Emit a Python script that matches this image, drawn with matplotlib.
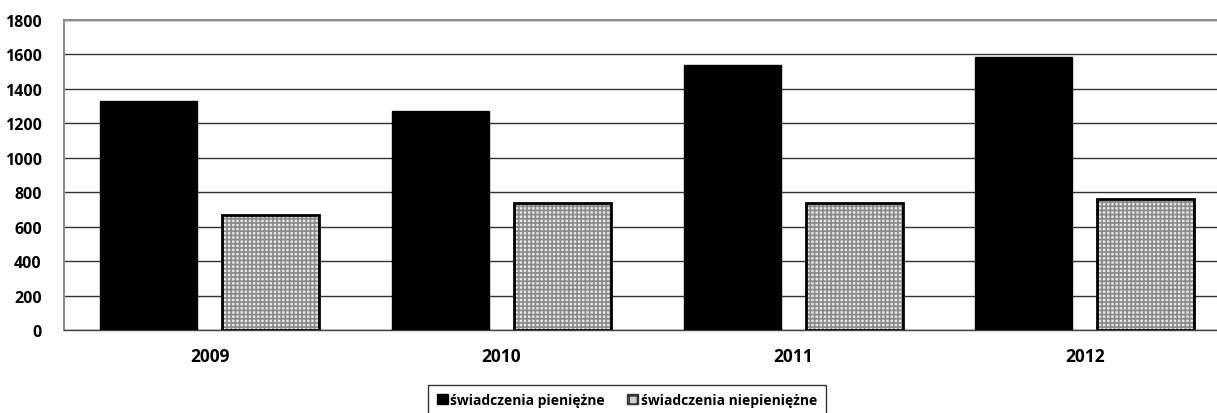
import matplotlib
matplotlib.use("Agg")
import matplotlib.pyplot as plt
import numpy as np
from matplotlib.patches import Patch

years = ["2009", "2010", "2011", "2012"]
pieniezne = [1330, 1270, 1540, 1585]
niepieniezne = [665, 740, 737, 760]
yticks = [0, 200, 400, 600, 800, 1000, 1200, 1400, 1600, 1800]
labels = ["świadczenia pieniężne", "świadczenia niepieniężne"]

plt.rcParams['font.family'] = ['Open Sans', 'DejaVu Sans']
plt.rcParams['hatch.linewidth'] = 1.2

fig = plt.figure(figsize=(12.17, 4.14), dpi=100)
ax = fig.add_axes([64/1217, 1 - 331/414, 1 - 64/1217, (331 - 21)/414])

x = np.arange(len(years))
w = 0.333
off = 0.209

ax.bar(x - off, pieniezne, w, color="black", edgecolor="black", linewidth=1, zorder=3)
ax.bar(x + off, niepieniezne, w, color="#e6e6e6", edgecolor="#8a8a8a", hatch="++++", linewidth=0, zorder=3)
ax.bar(x + off, niepieniezne, w, fill=False, edgecolor="black", linewidth=2, zorder=4)

ax.set_ylim(0, 1800)
ax.set_xlim(-0.5, 3.453)
ax.set_yticks(yticks)
ax.set_yticklabels([str(v) for v in yticks], fontsize=11.5, fontweight="bold")
ax.set_xticks(x)
ax.set_xticklabels(years, fontsize=12.5, fontweight="bold")
ax.tick_params(axis="both", length=0)
ax.tick_params(axis="y", pad=16)
ax.tick_params(axis="x", pad=12)
ax.yaxis.grid(True, color="#303030", linewidth=1)
ax.set_axisbelow(True)

for s in ["top", "left"]:
    ax.spines[s].set_color("#8c8c8c")
    ax.spines[s].set_linewidth(1.5)
ax.spines["right"].set_visible(False)
ax.spines["bottom"].set_color("#404040")
ax.spines["bottom"].set_linewidth(1)

handles = [Patch(facecolor="black", edgecolor="black"),
           Patch(facecolor="#d0d0d0", edgecolor="#333333", hatch="++")]
leg = fig.legend(handles, labels, loc="center", bbox_to_anchor=(627/1217, 1 - 401/414),
                 ncol=2, frameon=True, fancybox=False, edgecolor="black",
                 prop={"size": 10, "weight": "bold"}, handlelength=0.8, handleheight=0.8,
                 handletextpad=0.2, columnspacing=1.6, borderpad=0.6)
leg.get_frame().set_linewidth(1)

fig.savefig("out.png", dpi=100)
